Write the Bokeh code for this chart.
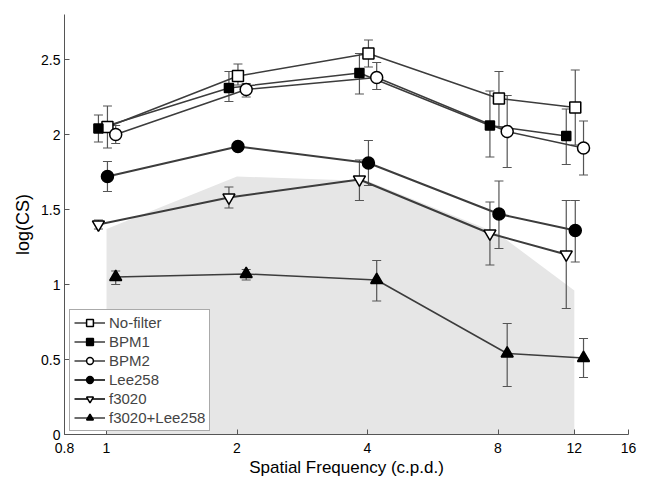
from bokeh.plotting import figure
from bokeh.models import Range1d, FixedTicker, ColumnDataSource, Legend, LegendItem
from bokeh.embed import file_html
from bokeh.resources import INLINE

# ---- data ----
freqs = [1, 2, 4, 8, 12]
gray_x = [1, 1, 2, 4, 8, 12, 12]
gray_y = [0, 1.37, 1.72, 1.69, 1.34, 0.96, 0]

nofilter = [2.05, 2.39, 2.54, 2.24, 2.18]
nofilter_lo = [1.91, 2.33, 2.45, 2.05, 1.93]
nofilter_hi = [2.19, 2.47, 2.63, 2.42, 2.43]

bpm1 = [2.04, 2.31, 2.41, 2.06, 1.99]
bpm1_lo = [1.95, 2.22, 2.27, 1.85, 1.80]
bpm1_hi = [2.13, 2.42, 2.54, 2.29, 2.17]

bpm2 = [2.00, 2.30, 2.38, 2.02, 1.91]
bpm2_lo = [1.94, 2.25, 2.30, 1.78, 1.73]
bpm2_hi = [2.06, 2.34, 2.48, 2.26, 2.09]

lee258 = [1.72, 1.92, 1.81, 1.47, 1.36]
lee258_lo = [1.62, 1.90, 1.66, 1.24, 1.15]
lee258_hi = [1.82, 1.94, 1.96, 1.69, 1.56]

f3020 = [1.40, 1.58, 1.70, 1.34, 1.20]
f3020_lo = [1.37, 1.51, 1.56, 1.13, 0.84]
f3020_hi = [1.43, 1.65, 1.83, 1.55, 1.56]

combo = [1.05, 1.07, 1.03, 0.54, 0.51]
combo_lo = [1.00, 1.03, 0.89, 0.32, 0.38]
combo_hi = [1.09, 1.10, 1.16, 0.74, 0.64]

x_ticks = [0.8, 1, 2, 4, 8, 12, 16]
x_tick_labels = ["0.8", "1", "2", "4", "8", "12", "16"]
y_ticks = [0, 0.5, 1, 1.5, 2, 2.5]
y_tick_labels = ["0", "0.5", "1", "1.5", "2", "2.5"]

FONT = "Liberation Sans"
ERR = "#555555"

p = figure(width=644, height=479, x_axis_type="log",
           x_range=Range1d(0.8, 16), y_range=Range1d(0, 2.8),
           output_backend="svg", toolbar_location=None,
           min_border_left=64, min_border_right=16, min_border_top=14,
           min_border_bottom=42)
p.outline_line_color = None
p.grid.visible = False
p.background_fill_color = "white"

p.patch(gray_x, gray_y, fill_color="#e6e6e6", line_color=None)

series = [
    ("No-filter", nofilter, nofilter_lo, nofilter_hi, 1.005, "square", "white", 11, 1.5),
    ("BPM1", bpm1, bpm1_lo, bpm1_hi, 0.958, "square", "black", 9, 1.5),
    ("BPM2", bpm2, bpm2_lo, bpm2_hi, 1.05, "circle", "white", 12, 1.5),
    ("Lee258", lee258, lee258_lo, lee258_hi, 1.005, "circle", "black", 12, 2.0),
    ("f3020", f3020, f3020_lo, f3020_hi, 0.958, "inverted_triangle", "white", 12, 2.0),
    ("f3020+Lee258", combo, combo_lo, combo_hi, 1.05, "triangle", "black", 12, 1.5),
]

sources = []
for name, ys, lo, hi, off, marker, fill, size, lw in series:
    xs = [f * off for f in freqs]
    src = ColumnDataSource(dict(x=xs, y=ys, lo=lo, hi=hi))
    sources.append(src)
    p.segment(x0="x", y0="lo", x1="x", y1="hi", source=src,
              line_color=ERR, line_width=1.2)
    p.scatter("x", "lo", source=src, marker="dash", size=9,
              line_color=ERR, line_width=1.2)
    p.scatter("x", "hi", source=src, marker="dash", size=9,
              line_color=ERR, line_width=1.2)

items = []
for (name, ys, lo, hi, off, marker, fill, size, lw), src in zip(series, sources):
    ln = p.line("x", "y", source=src, line_color="#3c3c3c", line_width=lw)
    items.append((name, ln, marker, fill, size, src))

legend_items = []
for name, ln, marker, fill, size, src in items:
    sc = p.scatter("x", "y", source=src, marker=marker, size=size,
                   fill_color=fill, line_color="black", line_width=1.5)
    legend_items.append(LegendItem(label=name, renderers=[ln, sc]))

legend = Legend(items=legend_items, location=(5, 3), border_line_color="#555555",
                border_line_width=1, background_fill_alpha=1,
                label_text_font=FONT, label_text_font_size="15px",
                glyph_width=31, glyph_height=17, label_height=17,
                spacing=2, padding=4, margin=0, label_standoff=4)
p.add_layout(legend, "center")

for ax in (p.xaxis[0], p.yaxis[0]):
    ax.major_tick_in = 5
    ax.major_tick_out = 0
    ax.minor_tick_in = 0
    ax.minor_tick_out = 0
    ax.axis_line_color = "#555555"
    ax.major_tick_line_color = "#555555"
    ax.major_label_text_font = FONT
    ax.major_label_text_font_size = "14px"
    ax.major_label_text_color = "black"
    ax.axis_label_text_font = FONT
    ax.axis_label_text_font_style = "normal"
    ax.axis_label_text_color = "black"

p.xaxis.ticker = FixedTicker(ticks=x_ticks)
p.xaxis.major_label_overrides = {t: l for t, l in zip(x_ticks, x_tick_labels)}
p.yaxis.ticker = FixedTicker(ticks=y_ticks)
p.yaxis.major_label_overrides = {t: l for t, l in zip(y_ticks, y_tick_labels)}
p.xaxis.axis_label = "Spatial Frequency (c.p.d.)"
p.yaxis.axis_label = "log(CS)"
p.xaxis.axis_label_text_font_size = "17px"
p.yaxis.axis_label_text_font_size = "18px"
p.xaxis.major_label_standoff = 8
p.yaxis.major_label_standoff = 4
p.xaxis.axis_label_standoff = 2
p.yaxis.axis_label_standoff = 5

open("out.html", "w").write(file_html(p, INLINE))
